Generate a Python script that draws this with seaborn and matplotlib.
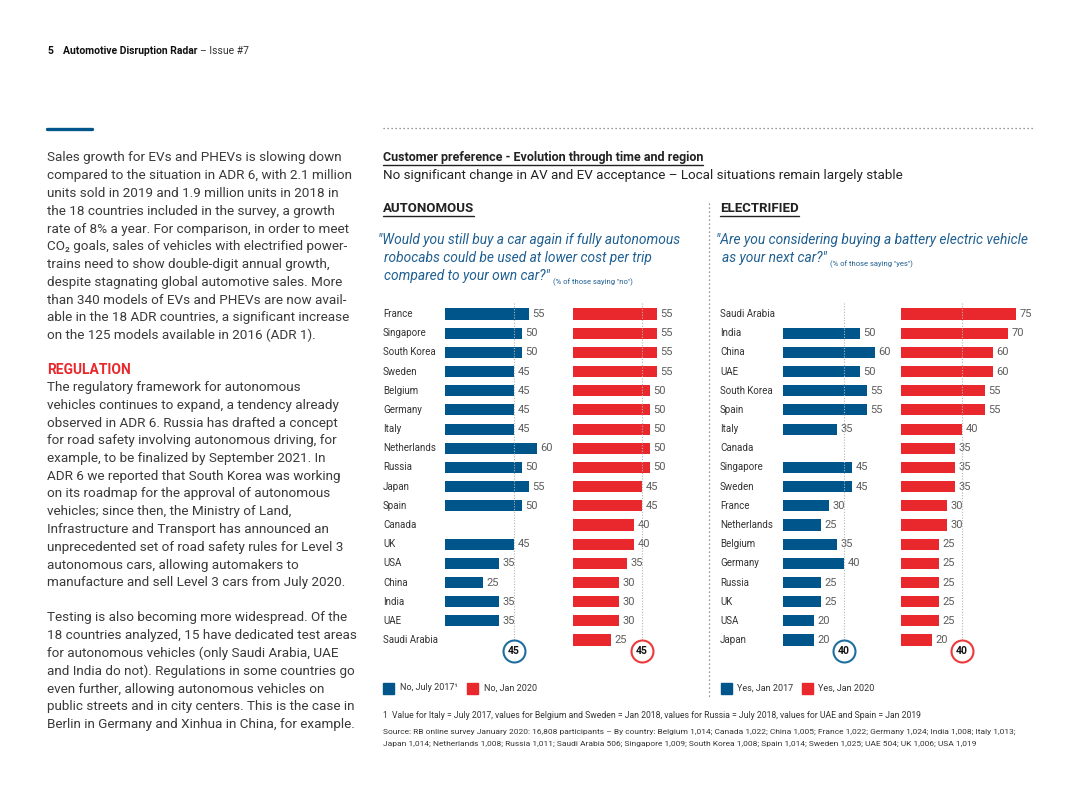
import numpy as np
import pandas as pd
import matplotlib
matplotlib.use("Agg")
import matplotlib.pyplot as plt
import seaborn as sns
from matplotlib.lines import Line2D
from matplotlib.transforms import blended_transform_factory

# ---------------- data ----------------
aut_countries = ["France", "Singapore", "South Korea", "Sweden", "Belgium", "Germany", "Italy",
                 "Netherlands", "Russia", "Japan", "Spain", "Canada", "UK", "USA", "China",
                 "India", "UAE", "Saudi Arabia"]
aut_2017 = [55, 50, 50, 45, 45, 45, 45, 60, 50, 55, 50, np.nan, 45, 35, 25, 35, 35, np.nan]
aut_2020 = [55, 55, 55, 55, 50, 50, 50, 50, 50, 45, 45, 40, 40, 35, 30, 30, 30, 25]
aut_avg = [45, 45]

elec_countries = ["Saudi Arabia", "India", "China", "UAE", "South Korea", "Spain", "Italy",
                  "Canada", "Singapore", "Sweden", "France", "Netherlands", "Belgium", "Germany",
                  "Russia", "UK", "USA", "Japan"]
elec_2017 = [np.nan, 50, 60, 50, 55, 55, 35, np.nan, 45, 45, 30, 25, 35, 40, 25, 25, 20, 20]
elec_2020 = [75, 70, 60, 60, 55, 55, 40, 35, 35, 35, 30, 30, 25, 25, 25, 25, 25, 20]
elec_avg = [40, 40]

legend_aut = ["No, July 2017\u00b9", "No, Jan 2020"]
legend_elec = ["Yes, Jan 2017", "Yes, Jan 2020"]

BLUE = "#00558a"
RED = "#e8282c"
QBLUE = "#1f5f91"
TXT = "#3a3a3a"
GREY = "#5c5c5c"

sns.set_theme(style="white")
plt.rcParams["font.family"] = ["Roboto", "DejaVu Sans"]

W, H = 1080, 810
fig = plt.figure(figsize=(10.8, 8.1), dpi=100)
fig.patch.set_facecolor("white")


def fx(x):
    return x / W


def fy(y):
    return 1 - y / H


def T(x, y, s, **kw):
    kw.setdefault("va", "center")
    kw.setdefault("ha", "left")
    return fig.text(fx(x), fy(y), s, **kw)


renderer = fig.canvas.get_renderer()


def underline(t, dy=2, lw=1.0, color="#222222"):
    bb = t.get_window_extent(renderer=renderer)
    y = bb.y0 - dy + 2
    fig.add_artist(Line2D([bb.x0 / W, bb.x1 / W], [y / H, y / H], color=color, lw=lw))


def after(t, gap=0):
    bb = t.get_window_extent(renderer=renderer)
    return bb.x1 + gap


# ---------------- header ----------------
T(47, 51, "5", fontsize=7.5, fontweight="bold", color="#111111")
h = T(63, 51, "Automotive Disruption Radar", fontsize=7.5, fontweight="bold", color="#111111")
T(after(h, 2), 51, "\u2013 Issue #7", fontsize=7.5, color="#333333")

# blue short rule
fig.add_artist(Line2D([fx(47), fx(92)], [fy(129), fy(129)], color=BLUE, lw=2.4))
# top dotted rule
fig.add_artist(Line2D([fx(383), fx(1035)], [fy(128), fy(128)], color="#777777", lw=0.9,
                      ls=(0, (1, 2.2))))
# vertical dotted divider
fig.add_artist(Line2D([fx(709), fx(709)], [fy(203), fy(697)], color="#777777", lw=0.9,
                      ls=(0, (1, 2.2))))

# ---------------- left body text ----------------
body1 = ["Sales growth for EVs and PHEVs is slowing down",
         "compared to the situation in ADR 6, with 2.1 million",
         "units sold in 2019 and 1.9 million units in 2018 in",
         "the 18 countries included in the survey, a growth",
         "rate of 8% a year. For comparison, in order to meet",
         "CO\u2082 goals, sales of vehicles with electrified power-",
         "trains need to show double-digit annual growth,",
         "despite stagnating global automotive sales. More",
         "than 340 models of EVs and PHEVs are now avail-",
         "able in the 18 ADR countries, a significant increase",
         "on the 125 models available in 2016 (ADR 1)."]
body2 = ["The regulatory framework for autonomous",
         "vehicles continues to expand, a tendency already",
         "observed in ADR 6. Russia has drafted a concept",
         "for road safety involving autonomous driving, for",
         "example, to be finalized by September 2021. In",
         "ADR 6 we reported that South Korea was working",
         "on its roadmap for the approval of autonomous",
         "vehicles; since then, the Ministry of Land,",
         "Infrastructure and Transport has announced an",
         "unprecedented set of road safety rules for Level 3",
         "autonomous cars, allowing automakers to",
         "manufacture and sell Level 3 cars from July 2020."]
body3 = ["Testing is also becoming more widespread. Of the",
         "18 countries analyzed, 15 have dedicated test areas",
         "for autonomous vehicles (only Saudi Arabia, UAE",
         "and India do not). Regulations in some countries go",
         "even further, allowing autonomous vehicles on",
         "public streets and in city centers. This is the case in",
         "Berlin in Germany and Xinhua in China, for example."]
LS = 17.75
BFS = 9.7
for i, s in enumerate(body1):
    T(47, 158 + i * LS, s, fontsize=BFS, color=TXT)
T(47, 370, "REGULATION", fontsize=10, fontweight="bold", color=RED)
for i, s in enumerate(body2):
    T(47, 387.5 + i * LS, s, fontsize=BFS, color=TXT)
for i, s in enumerate(body3):
    T(47, 618 + i * LS, s, fontsize=BFS, color=TXT)

# ---------------- chart titles ----------------
t = T(383, 158, "Customer preference - Evolution through time and region", fontsize=9,
      fontweight="bold", color="#222222")
underline(t)
T(383, 176, "No significant change in AV and EV acceptance \u2013 Local situations remain largely stable",
  fontsize=9.6, color="#222222")
t = T(383, 209, "AUTONOMOUS", fontsize=9.5, fontweight="bold", color="#222222")
underline(t)
t = T(720, 209, "ELECTRIFIED", fontsize=9.5, fontweight="bold", color="#222222")
underline(t)

QFS = 9.95
T(378, 240, "\"Would you still buy a car again if fully autonomous", fontsize=QFS, style="italic", color=QBLUE)
T(384, 258, "robocabs could be used at lower cost per trip", fontsize=QFS, style="italic", color=QBLUE)
q = T(384, 276, "compared to your own car?\"", fontsize=QFS, style="italic", color=QBLUE)
T(after(q, 3), 282, "(% of those saying \"no\")", fontsize=5.5, color=QBLUE)
T(716, 240, "\"Are you considering buying a battery electric vehicle", fontsize=QFS, style="italic", color=QBLUE)
q = T(722, 258, "as your next car?\"", fontsize=QFS, style="italic", color=QBLUE)
T(after(q, 3), 264, "(% of those saying \"yes\")", fontsize=5.5, color=QBLUE)

# ---------------- bar panels ----------------
ROW0, PITCH = 314.0, 19.18
YTOP, YBOT = -0.6, 18.3
SCALE = 1.53  # px per percentage point


def panel(left_px, width_px, countries, values, color, ring, avg, label_x=None):
    top_px = ROW0 + YTOP * PITCH
    bot_px = ROW0 + YBOT * PITCH
    ax = fig.add_axes([fx(left_px), fy(bot_px), width_px / W, (bot_px - top_px) / H])
    df = pd.DataFrame({"country": countries, "value": values})
    sns.barplot(data=df, x="value", y="country", order=countries, orient="h", color=color,
                saturation=1, width=0.58, errorbar=None, ax=ax, linewidth=0)
    ax.set_xlim(0, width_px / SCALE)
    ax.set_ylim(YBOT, YTOP)
    ax.axis("off")
    for i, v in enumerate(values):
        if not np.isnan(v):
            ax.text(v + 3.5 / SCALE, i, f"{int(v)}", va="center", ha="left", fontsize=8,
                    color=GREY)
    ax.plot([avg, avg], [-0.55, 17.0], color="#b5b5b5", lw=0.8, ls=(0, (1, 1.5)), zorder=4)
    ax.scatter([avg], [17.57], s=250, facecolor="white", edgecolor=ring, linewidth=1.5,
               zorder=5, clip_on=False)
    ax.text(avg, 17.57, f"{avg}", ha="center", va="center", fontsize=7.5, fontweight="bold",
            color="#111111", zorder=6)
    if label_x is not None:
        tr = blended_transform_factory(fig.transFigure, ax.transData)
        for i, c in enumerate(countries):
            ax.text(fx(label_x), i, c, transform=tr, va="center", ha="left", fontsize=7,
                    color="#333333")
    return ax


panel(445, 125, aut_countries, aut_2017, BLUE, "#1f6ea0", aut_avg[0], label_x=383)
panel(573, 127, aut_countries, aut_2020, RED, "#ea3a3c", aut_avg[1])
panel(783, 115, elec_countries, elec_2017, BLUE, "#1f6ea0", elec_avg[0], label_x=720)
panel(901, 160, elec_countries, elec_2020, RED, "#ea3a3c", elec_avg[1])


# ---------------- legends ----------------
def legend_square(x, y, color):
    fig.patches.append(matplotlib.patches.Rectangle((fx(x), fy(y + 5.5)), 11 / W, 11 / H,
                                                    transform=fig.transFigure, color=color))


LFS = 6.5
legend_square(383, 688, BLUE)
T(400, 688, legend_aut[0], fontsize=LFS, color="#333333")
legend_square(467, 688, RED)
T(484, 688, legend_aut[1], fontsize=LFS, color="#333333")
legend_square(721, 688, BLUE)
T(737, 688, legend_elec[0], fontsize=LFS, color="#333333")
legend_square(802, 688, RED)
T(818, 688, legend_elec[1], fontsize=LFS, color="#333333")

# ---------------- footnotes ----------------
T(383, 715, "1  Value for Italy = July 2017, values for Belgium and Sweden = Jan 2018, values for Russia = July 2018, "
  "values for UAE and Spain = Jan 2019", fontsize=6.2, color="#333333")
T(383, 732, "Source: RB online survey January 2020: 16,808 participants \u2013 By country: Belgium 1,014; Canada 1,022; "
  "China 1,005; France 1,022; Germany 1,024; India 1,008; Italy 1,013;", fontsize=6.05, color="#333333")
T(383, 744, "Japan 1,014; Netherlands 1,008; Russia 1,011; Saudi Arabia 506; Singapore 1,009; South Korea 1,008; "
  "Spain 1,014; Sweden 1,025; UAE 504; UK 1,006; USA 1,019", fontsize=6.05, color="#333333")

fig.savefig("out.png", dpi=100, facecolor="white")
